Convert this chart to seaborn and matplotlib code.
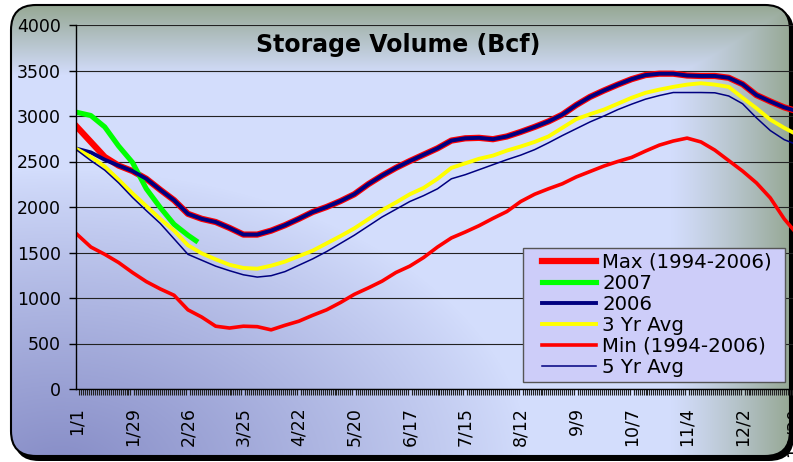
import numpy as np
import pandas as pd
import matplotlib
matplotlib.use("Agg")
import matplotlib.pyplot as plt
import matplotlib.transforms as mtransforms
from matplotlib.patches import FancyBboxPatch, Rectangle
import seaborn as sns

# weekly storage reports, day of year (leap-year calendar: 1/1 .. 12/30)
week_day = np.arange(0, 365, 7)
tick_labels = ['1/1', '1/29', '2/26', '3/25', '4/22', '5/20', '6/17', '7/15',
               '8/12', '9/9', '10/7', '11/4', '12/2', '12/30']

max_9406 = [2880, 2715, 2550, 2455, 2395, 2310, 2190, 2075, 1925, 1870,
            1835, 1770, 1697, 1697, 1740, 1800, 1870, 1945, 2000, 2065,
            2140, 2250, 2345, 2430, 2505, 2575, 2645, 2730, 2755, 2760,
            2745, 2775, 2825, 2880, 2940, 3015, 3120, 3210, 3280, 3345,
            3405, 3450, 3465, 3465, 3445, 3440, 3440, 3420, 3350, 3230,
            3160, 3095, 3050]
y2006 = [2640, 2600, 2520, 2455, 2395, 2310, 2190, 2075, 1925, 1870,
         1835, 1770, 1697, 1697, 1740, 1800, 1870, 1945, 2000, 2065,
         2140, 2250, 2345, 2430, 2505, 2575, 2645, 2730, 2755, 2760,
         2745, 2775, 2825, 2880, 2940, 3015, 3120, 3210, 3280, 3345,
         3405, 3450, 3465, 3465, 3445, 3440, 3440, 3420, 3350, 3230,
         3160, 3095, 3050]
avg3 = [2635, 2550, 2445, 2300, 2150, 2010, 1870, 1740, 1580, 1490,
        1425, 1365, 1330, 1322, 1355, 1400, 1460, 1520, 1600, 1680,
        1765, 1865, 1965, 2050, 2140, 2210, 2310, 2430, 2480, 2530,
        2565, 2620, 2665, 2715, 2775, 2870, 2965, 3020, 3070, 3135,
        3200, 3255, 3290, 3320, 3345, 3360, 3345, 3320, 3200, 3085,
        2960, 2870, 2790]
min_9406 = [1700, 1560, 1480, 1390, 1280, 1180, 1100, 1030, 870, 790,
            690, 670, 690, 685, 650, 700, 745, 810, 870, 950,
            1040, 1110, 1185, 1280, 1350, 1445, 1560, 1660, 1725, 1795,
            1875, 1950, 2060, 2140, 2200, 2255, 2330, 2390, 2450, 2500,
            2545, 2615, 2680, 2725, 2757, 2715, 2625, 2510, 2395, 2265,
            2100, 1870, 1690]
avg5 = [2624, 2510, 2405, 2265, 2105, 1960, 1820, 1650, 1480, 1415,
        1350, 1300, 1255, 1230, 1245, 1290, 1360, 1430, 1510, 1600,
        1690, 1790, 1890, 1975, 2060, 2125, 2200, 2310, 2355, 2410,
        2465, 2520, 2570, 2630, 2705, 2785, 2860, 2935, 3000, 3070,
        3130, 3185, 3225, 3258, 3258, 3258, 3255, 3220, 3135, 2980,
        2840, 2740, 2680]
day2007 = [0, 7, 14, 21, 28, 35, 42, 49, 56, 60]
y2007 = [3040, 3005, 2880, 2670, 2490, 2200, 1995, 1810, 1690, 1630]

W, H = 793, 462
fig = plt.figure(figsize=(W / 100, H / 100), dpi=100)

# chart-area background: rounded frame with gradient fill
bg = fig.add_axes([0, 0, 1, 1], zorder=-10)
bg.set_xlim(0, W)
bg.set_ylim(H, 0)
bg.axis('off')

yy, xx = np.mgrid[0:H, 0:W].astype(float)
lav = np.array([211, 221, 252]) / 255
purple = np.array([134, 140, 198]) / 255
green = np.array([150, 168, 148]) / 255
w_p = np.clip(1 - np.sqrt(((xx - 60) / 470) ** 2 + ((yy - 470) / 300) ** 2), 0, 1) ** 0.9
w_g = np.maximum(np.clip((75 - yy) / 70, 0, 1), np.clip((xx - 670) / 120, 0, 1) ** 1.2)
img = lav * (1 - w_p[..., None]) + purple * w_p[..., None]
img = img * (1 - w_g[..., None]) + green * w_g[..., None]

shadow = FancyBboxPatch((14, 8), 780, 453, boxstyle='round,pad=0,rounding_size=25',
                        fc='black', ec='none', zorder=0)
bg.add_patch(shadow)
im = bg.imshow(img, extent=(0, W, H, 0), aspect='auto', zorder=1)
clip = FancyBboxPatch((11, 5), 779, 451, boxstyle='round,pad=0,rounding_size=25',
                      transform=bg.transData, fc='none', ec='black', lw=1.5, zorder=2)
bg.add_patch(clip)
im.set_clip_path(clip)

ax = fig.add_axes([76 / W, 73 / H, 725 / W, 364 / H])
ax.patch.set_alpha(0)

sns.lineplot(x=week_day, y=max_9406, ax=ax, color='#ff0000', linewidth=4.5, label='Max (1994-2006)')
sns.lineplot(x=day2007, y=y2007, ax=ax, color='#00ff00', linewidth=3.7, label='2007')
sns.lineplot(x=week_day, y=y2006, ax=ax, color='#000080', linewidth=2.8, label='2006')
sns.lineplot(x=week_day, y=avg3, ax=ax, color='#ffff00', linewidth=2.8, label='3 Yr Avg')
sns.lineplot(x=week_day, y=min_9406, ax=ax, color='#ff0000', linewidth=2.6, label='Min (1994-2006)')
sns.lineplot(x=week_day, y=avg5, ax=ax, color='#000080', linewidth=1.1, label='5 Yr Avg')

ax.set_xlim(-0.5, 365.5)
ax.set_ylim(0, 4000)
ax.set_yticks(np.arange(0, 4001, 500))
ax.set_xticks(np.arange(0, 365, 28))
ax.set_xticklabels(tick_labels)
ax.set_xticks(np.arange(0, 366), minor=True)
ax.set_xlabel('')
ax.set_ylabel('')
ax.tick_params(axis='x', which='major', length=0, pad=13, labelrotation=90, labelsize=12.5)
ax.tick_params(axis='x', which='minor', length=4, width=0.8, color='#222222')
ax.tick_params(axis='y', length=5, width=1, pad=6, labelsize=12.5)
ax.yaxis.grid(True, color='#222222', linewidth=0.8)
for s in ['top', 'right']:
    ax.spines[s].set_visible(False)
for s in ['left', 'bottom']:
    ax.spines[s].set_color('black')
    ax.spines[s].set_linewidth(1)

# last label sits on the right edge, as in the original; nudge it a little left
last = ax.get_xticklabels()[-1]
last.set_transform(last.get_transform() +
                   mtransforms.ScaledTranslation(-4 / 100, 0, fig.dpi_scale_trans))

# legend box drawn by hand to match the wide padding of the original
box = Rectangle((523 / W, 1 - 382 / H), 262 / W, 134 / H, transform=fig.transFigure,
                fc='#cdcdf9', ec='#555555', lw=1, zorder=4, clip_on=False)
ax.add_patch(box)
leg = ax.legend(loc='upper left', bbox_to_anchor=(542 / W, 1 - 253 / H),
                bbox_transform=fig.transFigure, borderaxespad=0, frameon=False,
                fontsize=14.2, handlelength=2.75, handletextpad=0.3,
                labelspacing=0.1, borderpad=0)
leg.set_zorder(5)

fig.text(398 / W, 1 - 45 / H, 'Storage Volume (Bcf)', ha='center', va='center',
         fontsize=17, fontweight='bold')

fig.savefig('out.png', dpi=100)
